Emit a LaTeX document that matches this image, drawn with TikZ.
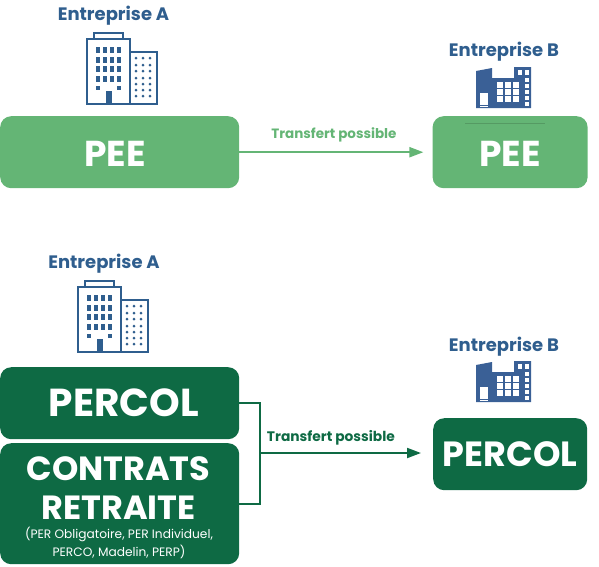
\documentclass[tikz,border=0pt]{standalone}
\usepackage{fontspec}
\setmainfont{Poppins}
\usepackage{xcolor}
\usetikzlibrary{arrows.meta, positioning}
\definecolor{vertclair}{HTML}{64B575}
\definecolor{vertfonce}{HTML}{0E6A44}
\definecolor{bleu}{HTML}{2F5E8E}
\definecolor{bleuusine}{HTML}{3A6096}

\begin{document}
\begin{tikzpicture}[
        x=1pt, y=-1pt,
        >={Triangle[length=14pt,width=10pt]},
        node distance=0pt,
        box/.style={draw=none, rectangle, rounded corners=11pt, text=white, align=center, inner sep=0pt, minimum height=72pt, font=\fontsize{36}{36}\selectfont\bfseries},
        light/.style={box, fill=vertclair},
        dark/.style={box, fill=vertfonce},
        title/.style={text=white, inner sep=0pt, anchor=center, font=\fontsize{33.5}{34}\selectfont\bfseries},
        company/.style={text=bleu, anchor=center, font=\fontsize{18}{20}\selectfont\bfseries, inner sep=0pt},
        clight/.style={text=vertclair, font=\fontsize{13.5}{15}\selectfont\bfseries, inner sep=0pt},
        cdark/.style={text=vertfonce, font=\fontsize{13.8}{15}\selectfont\bfseries, inner sep=0pt},
        % Immeuble de l'entreprise A, origine en haut de la tour
        tower/.pic={
            \draw[bleu, line width=2.5pt, fill=white] (7,0) rectangle (36,6);
            \draw[bleu, line width=2.5pt, fill=white] (0,6) rectangle (43,71);
            \draw[bleu, line width=2.5pt, fill=white] (43,19) rectangle (70,71);
            \fill[bleu] (19,58) rectangle (25,71);
            \foreach \wx in {11,18,25,32} \foreach \wy in {17,27,36,46}
                \fill[bleu] (\wx-1.7,\wy-2.7) rectangle (\wx+1.7,\wy+2.7);
            \foreach \wx in {11,32}
                \fill[bleu] (\wx-1.7,53) rectangle (\wx+1.7,57);
            \foreach \wx in {49,56,63} \foreach \wy in {25,32,38,45,51,57,63}
                \fill[bleu] (\wx,\wy) circle (1.5);
        },
        % Usine de l'entreprise B, origine en bas a gauche
        factory/.pic={
            \fill[bleuusine] (0,0) -- (0,-37) -- (16,-40) -- (16,-30) -- (38,-30) -- (38,-41) -- (55,-41) -- (55,0) -- cycle;
            \fill[white] (4,-15) rectangle (12,-3);
            \fill[white] (4,-2) rectangle (12,-1);
            \foreach \wx in {21,29,37} \foreach \wy in {-26,-19,-12}
                \fill[white] (\wx,\wy) rectangle (\wx+6,\wy+6);
            \foreach \wy in {-30,-24,-18,-12,-6}
                \fill[white] (49,\wy) rectangle (53,\wy+4);
            \fill[white] (42,-38) rectangle (46,-33);
            \fill[white] (49,-38) rectangle (53,-33);
        }
    ]
        \useasboundingbox (0,0) rectangle (599,566);

        % Premier cas
        \node[light, minimum width=239pt, anchor=north west] (peeA) at (0,116) {\rule{0pt}{29pt}PEE\hspace*{9pt}};
        \node[light, minimum width=155pt, right=193pt of peeA] (peeB) {\rule{0pt}{29pt}PEE};
        \node[company] (nameA) at (113.5,15.5) {Entreprise A};
        \node[company] (nameB) at (504,52) {Entreprise B};
        \pic at (87,33) {tower};
        \pic at (476,108) {factory};
        \draw[vertclair!85!black, line width=0.4pt] (465,123) -- (545,123);

        \draw[vertclair, line width=2pt, ->, shorten >=9pt] (peeA.east) -- (peeB.west)
            node[clight, pos=0.49, yshift=17pt] (labelA) {Transfert possible};

        % Second cas
        \node[dark, minimum width=239pt, anchor=north west, font=\fontsize{39}{39}\selectfont\bfseries] (percolA) at (0,367) {\hspace*{8pt}PERCOL};
        \node[dark, minimum width=239pt, minimum height=121pt, anchor=north west] (contrats) at (0,443) {};
        \node[dark, minimum width=154pt, anchor=north west, font=\fontsize{35}{35}\selectfont\bfseries] (percolB) at (433,418) {PERCOL};
        \node[title] (titleC) at (118.5,469) {CONTRATS};
        \node[title] (titleD) at (118.5,508) {RETRAITE};
        \node[text=white, font=\fontsize{12.2}{18}\selectfont, align=center, inner sep=0pt, anchor=center] (detail) at (119,543) {(PER Obligatoire, PER Individuel,\\PERCO, Madelin, PERP)};
        \node[company] (nameC) at (104,263.5) {Entreprise A};
        \node[company] (nameD) at (504,346.5) {Entreprise B};
        \pic at (78,281) {tower};
        \pic at (476,402) {factory};

        \coordinate (fork) at (260,453);
        \draw[vertfonce, line width=2pt] (percolA.east) -| (fork) |- (contrats.east);
        \draw[vertfonce, line width=2pt, ->, shorten >=12pt] (fork) -- (fork -| percolB.west)
            node[cdark, pos=0.41, yshift=15pt] (labelB) {Transfert possible};
\end{tikzpicture}
\end{document}
